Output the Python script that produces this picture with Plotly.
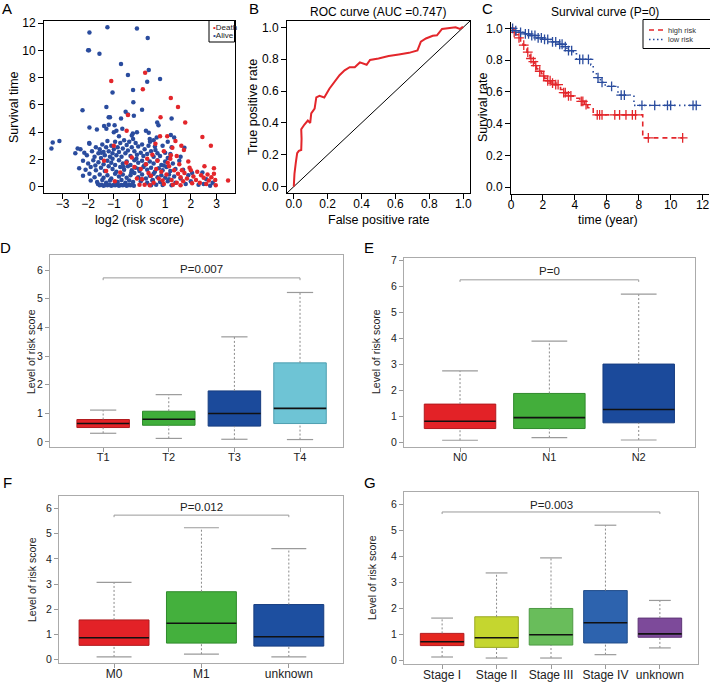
import plotly.graph_objects as go

W, H = 710, 684
FONT = "Liberation Sans, Arial, Helvetica, sans-serif"

def fx(x):
    return x / W

def fy(y):
    return 1 - y / H

# ---------------- Panel A data: scatter of log2(risk score) vs survival time
alive_x = [-1.95, -1.25, -0.1, 0.32, -2.0, -1.97, -1.56, -0.72, 0.36, -0.45, 0.8, 0.3, -1.05, -0.25, -0.24,
           -2.22, -1.29, -1.15, -1.2, -0.54, -0.45, -0.72, -0.22, 0.1, 0.74, 0.69, 1.25, -1.95, -1.66, -1.38,
           -1.29, -1.2, -0.97, -0.9, -0.67, -0.26, 0.36, 0.41, 1.22, 0.67, -3.38, -3.12, -3.43, -2.41, -1.96,
           -2.3, -2.15, -2.05, -1.95, -1.85, -1.75, -1.7, -1.6, -1.55, -1.5, -1.45, -1.4, -1.35, -1.3, -1.25,
           -1.2, -1.15, -1.1, -1.05, -1.0, -0.95, -0.9, -0.85, -0.8, -0.75, -0.7, -0.65, -0.6, -0.55, -0.5,
           -0.45, -0.4, -0.35, -0.3, -0.25, -0.2, -0.15, -0.1, -0.05, 0.05, 0.1, 0.15, 0.2, 0.3, 0.35,
           0.45, 0.55, 0.6, 0.7, 0.8, 0.9, 1.0, 1.1, 1.2, 1.35, 1.6, 1.75, 0.55, -0.8, -0.3,
           0.25, -1.0, 0.4, -0.1, 1.1, 1.25,
           -2.2, -2.0, -1.8, -1.6, -1.4, -1.25, -1.1, -0.95, -0.8, -0.65, -0.5, -0.35, -0.2, -0.05, 0.1,
           0.25, 0.4, 0.55, 0.7, 0.85, 1.0, 1.3, 1.55, 2.45,
           -2.35, -2.1, -1.9, -1.7, -1.5, -1.35, -1.2, -1.05, -0.9, -0.75, -0.6, -0.45, -0.3, -0.15, 0.0,
           0.15, 0.3, 0.45, 0.6, 0.75, 0.9, 1.05, 1.2, 1.4, 1.7, 2.05,
           -2.2, -1.95, -1.75, -1.55, -1.4, -1.25, -1.1, -0.95, -0.8, -0.65, -0.5, -0.35, -0.2, -0.05, 0.1,
           0.25, 0.4, 0.55, 0.7, 0.85, 1.0, 1.15, 1.35, 1.6, 1.9, 2.6, 2.85,
           -1.9, -1.65, -1.45, -1.3, -1.15, -0.85, -0.7, -0.55, -0.4, -0.25, 0.05, 0.3, 0.5, 0.8, 1.1,
           1.4, 2.0, 2.5,
           -1.62, -1.55, -1.48, -1.4, -1.33, -1.25, -1.18, -1.1, -1.02, -0.95, -0.88, -0.8, -0.72, -0.65, -0.58,
           -0.5, -0.42, -0.35, -0.28, -0.22, 0.45, 0.65, 0.9, 1.25, 1.8, 2.3, 2.75,
           -1.72, -1.05, -0.62, -0.12, 0.18, 0.52, 0.95, -1.48, -0.88, -0.32, 0.08, 0.62, 1.15, -2.5, -0.02]
alive_y = [11.3, 11.7, 11.6, 10.9, 10.0, 10.0, 9.75, 9.0, 8.55, 8.2, 7.9, 7.7, 6.9, 7.1, 6.2,
           5.6, 5.85, 5.1, 5.1, 5.5, 5.3, 5.0, 5.2, 5.65, 4.5, 4.7, 5.0, 4.35, 4.2, 4.45,
           4.25, 4.55, 4.5, 4.1, 4.25, 3.9, 3.95, 3.3, 3.8, 3.6, 3.25, 3.35, 2.8, 2.8, 3.2,
           2.75, 2.5, 2.3, 3.15, 2.6, 2.2, 2.9, 2.45, 2.75, 2.1, 3.1, 2.55, 2.3, 2.9, 3.35,
           2.6, 2.2, 3.0, 2.45, 2.75, 3.3, 2.3, 2.9, 2.55, 3.2, 2.2, 2.8, 3.4, 2.45, 3.05,
           2.65, 3.3, 2.25, 2.9, 3.5, 2.6, 3.2, 2.35, 2.95, 2.5, 3.1, 2.25, 2.75, 2.4, 3.0,
           2.6, 2.2, 2.95, 2.45, 2.25, 3.0, 2.5, 2.1, 2.4, 3.6, 2.2, 2.85, 3.4, 3.7, 3.75,
           4.1, 4.0, 3.5, 4.0, 3.3, 2.9,
           1.9, 1.7, 1.95, 1.8, 1.65, 1.9, 1.75, 1.6, 1.95, 1.7, 1.85, 1.6, 1.95, 1.75, 1.9,
           1.65, 1.85, 1.7, 1.95, 1.6, 1.85, 1.7, 1.9, 1.05,
           1.35, 1.25, 1.45, 1.2, 1.4, 1.15, 1.5, 1.3, 1.1, 1.45, 1.25, 1.5, 1.2, 1.4, 1.15,
           1.45, 1.25, 1.4, 1.1, 1.35, 1.2, 1.45, 1.15, 1.3, 1.25, 1.0,
           0.8, 0.95, 0.7, 0.9, 0.65, 0.85, 0.6, 0.95, 0.75, 0.9, 0.65, 0.85, 1.0, 0.7, 0.9,
           0.6, 0.8, 0.95, 0.7, 0.85, 0.65, 0.9, 0.75, 0.6, 0.85, 0.55, 0.3,
           0.45, 0.35, 0.5, 0.3, 0.45, 0.35, 0.5, 0.3, 0.45, 0.35, 0.4, 0.3, 0.45, 0.35, 0.4,
           0.3, 0.4, 0.2,
           0.2, 0.1, 0.15, 0.08, 0.12, 0.1, 0.15, 0.08, 0.12, 0.1, 0.14, 0.08, 0.12, 0.1, 0.15,
           0.08, 0.12, 0.1, 0.14, 0.08, 0.1, 0.15, 0.12, 0.1, 0.2, 0.15, 0.08,
           1.55, 2.05, 1.45, 2.05, 1.55, 0.5, 1.55, 2.5, 0.25, 1.05, 0.55, 2.7, 0.55, 2.45, 1.3]

death_x = [-1.1, 0.22, 0.13, 1.22, 1.5, -0.45, 0.82, 1.78, 2.45, 2.78, 0.8, -0.5, -1.0, 0.62, 1.08,
           1.4, 1.28, 1.22, 1.63, 1.73, 2.53, 2.9, 3.45, 2.97, -1.38, -0.96, -0.51, -1.3, -0.2, 0.0,
           0.1, 0.2, 0.35, 0.45, 0.55, 0.65, 0.75, 0.85, 0.95, 1.05, 1.15, 1.25, 1.35, 1.45, 1.5,
           1.55, 1.6, 1.65, 1.7, 1.75, 1.85, 1.95, 2.05, 2.1, 2.2, 2.25, 2.35, 2.4, 2.5, 2.6,
           2.65, 2.7, 2.8, 2.9, 2.95, 0.3, 0.5, 0.95, 1.2, -0.3, 0.05, -0.1, 0.25, 0.7, 1.45,
           1.1, 1.9, 2.0, 0.4, 0.9, 1.3, 1.6, -0.75]
death_y = [7.75, 8.35, 7.15, 6.5, 5.85, 5.25, 5.1, 4.7, 3.65, 3.0, 3.7, 4.1, 3.0, 3.15, 3.7,
           3.35, 2.85, 2.3, 3.0, 2.7, 1.5, 1.35, 0.45, 0.1, 1.9, 0.4, 1.75, 1.15, 1.45, 0.15,
           0.55, 0.15, 1.0, 0.8, 0.3, 1.3, 0.6, 1.1, 0.2, 0.9, 1.5, 0.5, 1.2, 0.3, 0.95,
           1.65, 0.7, 1.2, 0.4, 1.0, 0.6, 1.4, 0.25, 0.75, 0.5, 1.1, 0.3, 0.85, 0.65, 0.2,
           0.9, 0.45, 0.7, 0.95, 0.5, 2.05, 2.35, 2.6, 2.05, 2.15, 1.3, 0.6, 1.65, 1.9, 2.25,
           1.75, 1.85, 1.2, 0.1, 0.45, 0.15, 0.1, 1.05]

# ---------------- Panel B data: ROC curve
roc_fpr = [0.0, 0.004, 0.012, 0.02, 0.03, 0.044, 0.046, 0.044, 0.063, 0.083, 0.097, 0.103, 0.123, 0.133,
           0.152, 0.18, 0.21, 0.24, 0.27, 0.30, 0.33, 0.36, 0.39, 0.43, 0.45, 0.50, 0.56, 0.62, 0.68,
           0.73, 0.75, 0.78, 0.82, 0.845, 0.875, 0.955, 0.98, 0.994, 1.0]
roc_tpr = [0.0, 0.08, 0.15, 0.21, 0.225, 0.23, 0.30, 0.36, 0.39, 0.415, 0.40, 0.46, 0.49, 0.56,
           0.57, 0.56, 0.615, 0.655, 0.70, 0.73, 0.75, 0.75, 0.78, 0.765, 0.795, 0.805, 0.82, 0.83, 0.84,
           0.855, 0.91, 0.93, 0.947, 0.95, 0.99, 1.0, 0.99, 1.0, 1.0]
diag = [-0.05, 1.05]

# ---------------- Panel C data: Kaplan-Meier curves
high_t = [0, 0.15, 0.3, 0.45, 0.6, 0.75, 0.9, 1.0, 1.1, 1.2, 1.3, 1.45, 1.6, 1.75, 1.9, 2.0, 2.1, 2.25,
          2.5, 2.7, 3.1, 3.2, 3.5, 3.9, 4.3, 4.6, 4.8, 5.15, 8.25, 10.75]
high_s = [1.0, 0.975, 0.96, 0.94, 0.915, 0.895, 0.87, 0.85, 0.83, 0.81, 0.79, 0.765, 0.745, 0.73, 0.715,
          0.7, 0.685, 0.67, 0.655, 0.645, 0.615, 0.595, 0.575, 0.56, 0.54, 0.52, 0.5, 0.455, 0.31, 0.31]
high_cens = [0.2, 0.5, 0.8, 1.05, 1.25, 1.4, 1.55, 1.8, 2.05, 2.3, 2.45, 2.6, 2.8, 2.95, 3.3, 3.4, 3.6,
             3.75, 4.4, 4.5, 4.7, 5.4, 5.55, 5.7, 6.5, 6.8, 7.2, 7.6, 7.8, 8.6, 10.75]
low_t = [0, 0.2, 0.5, 0.8, 1.2, 1.6, 2.0, 2.5, 3.0, 3.3, 3.5, 3.9, 4.1, 5.0, 5.15, 5.35, 5.6, 5.9, 6.7,
         7.7, 11.7]
low_s = [1.0, 0.985, 0.975, 0.965, 0.955, 0.94, 0.93, 0.915, 0.9, 0.885, 0.86, 0.84, 0.805, 0.77, 0.725,
         0.69, 0.66, 0.635, 0.58, 0.515, 0.515]
low_cens = [0.1, 0.3, 0.6, 0.9, 1.1, 1.3, 1.5, 1.7, 1.9, 2.1, 2.3, 2.6, 2.8, 3.05, 3.2, 3.4, 3.6, 3.8,
            4.3, 4.5, 4.85, 5.45, 5.7, 6.3, 6.9, 7.1, 8.2, 9.0, 9.8, 10.0, 11.4, 11.6]
legend_c = ["high risk", "low risk"]

# ---------------- Panels D-G data: boxplot summaries
d_cats = ["T1", "T2", "T3", "T4"]
d_low = [0.30, 0.12, 0.09, 0.08]
d_q1 = [0.50, 0.58, 0.55, 0.64]
d_med = [0.64, 0.79, 0.99, 1.17]
d_q3 = [0.78, 1.07, 1.78, 2.76]
d_up = [1.11, 1.65, 3.67, 5.22]
d_p = "P=0.007"

e_cats = ["N0", "N1", "N2"]
e_low = [0.08, 0.18, 0.09]
e_q1 = [0.53, 0.53, 0.75]
e_med = [0.81, 0.95, 1.26]
e_q3 = [1.47, 1.88, 3.01]
e_up = [2.75, 3.89, 5.70]
e_p = "P=0"

f_cats = ["M0", "M1", "unknown"]
f_low = [0.11, 0.22, 0.11]
f_q1 = [0.57, 0.66, 0.54]
f_med = [0.87, 1.45, 0.91]
f_q3 = [1.58, 2.70, 2.19]
f_up = [3.07, 5.24, 4.41]
f_p = "P=0.012"

g_cats = ["Stage I", "Stage II", "Stage III", "Stage IV", "unknown"]
g_low = [0.13, 0.09, 0.09, 0.22, 0.48]
g_q1 = [0.57, 0.50, 0.59, 0.67, 0.89]
g_med = [0.72, 0.87, 0.99, 1.45, 1.02]
g_q3 = [1.04, 1.68, 2.00, 2.69, 1.63]
g_up = [1.63, 3.37, 3.95, 5.21, 2.31]
g_p = "P=0.003"

RED = "#e3262b"
BLUE = "#2a4c9e"

fig = go.Figure()

# ---- A
fig.add_trace(go.Scatter(x=alive_x, y=alive_y, mode="markers", xaxis="x", yaxis="y",
                         marker=dict(color=BLUE, size=4.5), showlegend=False))
fig.add_trace(go.Scatter(x=death_x, y=death_y, mode="markers", xaxis="x", yaxis="y",
                         marker=dict(color=RED, size=4.5), showlegend=False))

# ---- B
fig.add_trace(go.Scatter(x=diag, y=diag, mode="lines", xaxis="x2", yaxis="y2",
                         line=dict(color="black", width=1), showlegend=False))
fig.add_trace(go.Scatter(x=roc_fpr, y=roc_tpr, mode="lines", xaxis="x2", yaxis="y2",
                         line=dict(color=RED, width=2), showlegend=False))

# ---- C
def step_val(ts, ss, t):
    v = ss[0]
    for ti, si in zip(ts, ss):
        if ti <= t:
            v = si
    return v

HIGH_DASH = "5px,4px"
LOW_DASH = "1.5px,3.5px"
fig.add_trace(go.Scatter(x=high_t, y=high_s, mode="lines", xaxis="x3", yaxis="y3", line_shape="hv",
                         line=dict(color=RED, width=1.6, dash=HIGH_DASH), showlegend=False))
fig.add_trace(go.Scatter(x=low_t, y=low_s, mode="lines", xaxis="x3", yaxis="y3", line_shape="hv",
                         line=dict(color=BLUE, width=1.6, dash=LOW_DASH), showlegend=False))
fig.add_trace(go.Scatter(x=high_cens, y=[step_val(high_t, high_s, t) for t in high_cens], mode="markers",
                         xaxis="x3", yaxis="y3", showlegend=False,
                         marker=dict(symbol="cross-thin", size=7, line=dict(color=RED, width=1.3))))
fig.add_trace(go.Scatter(x=low_cens, y=[step_val(low_t, low_s, t) for t in low_cens], mode="markers",
                         xaxis="x3", yaxis="y3", showlegend=False,
                         marker=dict(symbol="cross-thin", size=7, line=dict(color=BLUE, width=1.3))))

# ---- box panels
GRAY = "#9a9a9a"

def box_panel(xa, ya, cats, low, q1, med, q3, up, fills, outlines, ptext, bry, pty):
    pos = list(range(1, len(cats) + 1))
    wx, wy = [], []
    for p, lo, a, b, hi in zip(pos, low, q1, q3, up):
        wx += [p, p, None, p, p, None]
        wy += [lo, a, None, b, hi, None]
    fig.add_trace(go.Scatter(x=wx, y=wy, mode="lines", xaxis=xa, yaxis=ya, showlegend=False,
                             line=dict(color="#8a8a8a", width=1, dash="2px,2px")))
    cx, cy = [], []
    for p, lo, hi in zip(pos, low, up):
        cx += [p - 0.2, p + 0.2, None, p - 0.2, p + 0.2, None]
        cy += [lo, lo, None, hi, hi, None]
    fig.add_trace(go.Scatter(x=cx, y=cy, mode="lines", xaxis=xa, yaxis=ya, showlegend=False,
                             line=dict(color=GRAY, width=1.2)))
    fig.add_trace(go.Bar(x=pos, y=[b - a for a, b in zip(q1, q3)], base=q1, width=0.8,
                         xaxis=xa, yaxis=ya, showlegend=False,
                         marker=dict(color=fills, line=dict(color=outlines, width=1))))
    mx, my = [], []
    for p, m in zip(pos, med):
        mx += [p - 0.4, p + 0.4, None]
        my += [m, m, None]
    fig.add_trace(go.Scatter(x=mx, y=my, mode="lines", xaxis=xa, yaxis=ya, showlegend=False,
                             line=dict(color="#111111", width=1.6)))
    n = len(cats)
    fig.add_trace(go.Scatter(x=[1, 1, n, n], y=[bry - 0.08, bry, bry, bry - 0.08], mode="lines",
                             xaxis=xa, yaxis=ya, showlegend=False,
                             line=dict(color=GRAY, width=1)))
    fig.add_annotation(x=(1 + n) / 2, y=pty, xref=xa, yref=ya, text=ptext, showarrow=False,
                       font=dict(size=11.5, color="#222"), yanchor="middle")

box_panel("x4", "y4", d_cats, d_low, d_q1, d_med, d_q3, d_up,
          ["#e32227", "#3fae3a", "#1b4a9b", "#6ec4d5"],
          ["#b21a1e", "#2f8a2c", "#173d80", "#4e9fb0"], d_p, 5.73, 6.03)
box_panel("x5", "y5", e_cats, e_low, e_q1, e_med, e_q3, e_up,
          ["#e32227", "#43ae3b", "#1b4a9b"],
          ["#b21a1e", "#2f8a2c", "#173d80"], e_p, 6.25, 6.58)
box_panel("x6", "y6", f_cats, f_low, f_q1, f_med, f_q3, f_up,
          ["#e32227", "#44b03d", "#1d4fa0"],
          ["#b21a1e", "#2f8a2c", "#173d80"], f_p, 5.74, 6.07)
box_panel("x7", "y7", g_cats, g_low, g_q1, g_med, g_q3, g_up,
          ["#e5261f", "#c5d62f", "#69bd5b", "#2d63ae", "#7d4a9a"],
          ["#b21a1e", "#9aa822", "#4e9a44", "#214d8a", "#5f3677"], g_p, 5.72, 6.0)

# ---- axes
def black_axis(dom, rng, anchor, mirror=True, **kw):
    d = dict(domain=dom, range=rng, anchor=anchor, showline=True, linecolor="black", linewidth=1,
             mirror=mirror, ticks="outside", ticklen=5, tickcolor="black", showgrid=False,
             zeroline=False, tickfont=dict(size=12, color="black"))
    d.update(kw)
    return d

def gray_axis(dom, rng, anchor, **kw):
    d = dict(domain=dom, range=rng, anchor=anchor, showline=True, linecolor="#ababab", linewidth=1,
             mirror=True, ticks="outside", ticklen=4, tickcolor="#9a9a9a", showgrid=False,
             zeroline=False, tickfont=dict(size=10.5, color="#222"))
    d.update(kw)
    return d

XSO = -5   # pull bottom tick labels up toward the axis
layout = dict(
    width=W, height=H, margin=dict(l=0, r=0, t=0, b=0, autoexpand=False), plot_bgcolor="white",
    paper_bgcolor="white", font=dict(family=FONT, color="black"), showlegend=False, barmode="overlay",
    xaxis=black_axis([fx(44), fx(235)], [-3.72, 3.72], "y", tickvals=[-3, -2, -1, 0, 1, 2, 3],
                     ticklabelstandoff=XSO),
    yaxis=black_axis([fy(193), fy(21)], [-0.46, 12.15], "x", tickvals=[0, 2, 4, 6, 8, 10, 12]),
    xaxis2=black_axis([fx(287), fx(470)], [-0.04, 1.04], "y2", tickvals=[0, 0.2, 0.4, 0.6, 0.8, 1.0],
                      tickformat=".1f", ticklabelstandoff=XSO),
    yaxis2=black_axis([fy(193), fy(21)], [-0.04, 1.04], "x2", tickvals=[0, 0.2, 0.4, 0.6, 0.8, 1.0],
                      tickformat=".1f"),
    xaxis3=black_axis([fx(511), fx(709)], [0, 12.4], "y3", mirror=False,
                      tickvals=[0, 2, 4, 6, 8, 10, 12], ticklabelstandoff=XSO),
    yaxis3=black_axis([fy(193.5), fy(22)], [-0.04, 1.04], "x3", mirror=False,
                      tickvals=[0, 0.2, 0.4, 0.6, 0.8, 1.0], tickformat=".1f"),
    xaxis4=gray_axis([fx(50), fx(343)], [0.19, 4.655], "y4", tickvals=[1, 2, 3, 4], ticktext=d_cats,
                     tickfont=dict(size=11, color="#222"), ticklabelstandoff=-4),
    yaxis4=gray_axis([fy(447), fy(255)], [-0.18, 6.53], "x4", tickvals=[0, 1, 2, 3, 4, 5, 6]),
    xaxis5=gray_axis([fx(404), fx(695)], [0.373, 3.63], "y5", tickvals=[1, 2, 3], ticktext=e_cats,
                     tickfont=dict(size=11, color="#222"), ticklabelstandoff=-4),
    yaxis5=gray_axis([fy(447), fy(258)], [-0.18, 7.09], "x5", tickvals=[0, 1, 2, 3, 4, 5, 6, 7]),
    xaxis6=gray_axis([fx(59), fx(343)], [0.37, 3.62], "y6", tickvals=[1, 2, 3], ticktext=f_cats,
                     tickfont=dict(size=12, color="#222"), ticklabelstandoff=-4),
    yaxis6=gray_axis([fy(663), fy(496)], [-0.13, 6.5], "x6", tickvals=[0, 1, 2, 3, 4, 5, 6]),
    xaxis7=gray_axis([fx(404), fx(698)], [0.30, 5.70], "y7", tickvals=[1, 2, 3, 4, 5], ticktext=g_cats,
                     tickfont=dict(size=12, color="#222"), ticklabelstandoff=-4),
    yaxis7=gray_axis([fy(664), fy(492)], [-0.14, 6.49], "x7", tickvals=[0, 1, 2, 3, 4, 5, 6]),
)
fig.update_layout(**layout)

# ---- A legend (box + text)
fig.add_shape(type="rect", xref="paper", yref="paper", x0=fx(209), x1=fx(234.5), y0=fy(42), y1=fy(20.5),
              line=dict(color="black", width=1), fillcolor="white", layer="above")
fig.add_annotation(x=fx(211), y=fy(27), xref="paper", yref="paper", xanchor="left", yanchor="middle",
                   showarrow=False, font=dict(size=8, color="#222"),
                   text=f"<span style='color:{RED}'>•</span>Death")
fig.add_annotation(x=fx(211), y=fy(35), xref="paper", yref="paper", xanchor="left", yanchor="middle",
                   showarrow=False, font=dict(size=8, color="#222"),
                   text=f"<span style='color:{BLUE}'>•</span>Alive")

# ---- C legend (box + line samples + text)
fig.add_shape(type="rect", xref="paper", yref="paper", x0=fx(643), x1=fx(712), y0=fy(48.5), y1=fy(19.5),
              line=dict(color="black", width=1), fillcolor="white", layer="above")
fig.add_shape(type="line", xref="paper", yref="paper", x0=fx(649), x1=fx(663), y0=fy(30), y1=fy(30),
              line=dict(color=RED, width=1.4, dash=HIGH_DASH), layer="above")
fig.add_shape(type="line", xref="paper", yref="paper", x0=fx(649), x1=fx(663), y0=fy(39.5), y1=fy(39.5),
              line=dict(color=BLUE, width=1.4, dash="1.5px,2.5px"), layer="above")
fig.add_annotation(x=fx(666), y=fy(30), xref="paper", yref="paper", xanchor="left", yanchor="middle",
                   showarrow=False, font=dict(size=7.5, color="#333"), text=legend_c[0])
fig.add_annotation(x=fx(666), y=fy(39.5), xref="paper", yref="paper", xanchor="left", yanchor="middle",
                   showarrow=False, font=dict(size=7.5, color="#333"), text=legend_c[1])

# ---- text annotations (panel letters, titles, axis titles)
def txt(x, y, s, size, angle=0, color="black"):
    fig.add_annotation(x=fx(x), y=fy(y), xref="paper", yref="paper", text=s, showarrow=False,
                       textangle=angle, font=dict(size=size, color=color),
                       xanchor="center", yanchor="middle")

for letter, x, y in [("A", 7, 8), ("B", 254, 8), ("C", 487, 8), ("D", 6, 247), ("E", 369, 247),
                     ("F", 7, 482), ("G", 370, 482)]:
    txt(x, y, letter, 15)

txt(378, 12, "ROC curve (AUC =0.747)", 12)
txt(605, 12, "Survival curve (P=0)", 12)

txt(139, 220, "log2 (risk score)", 12.5)
txt(14, 107, "Survival time", 12.5, -90)
txt(379, 220, "False positive rate", 12.5)
txt(253, 107, "True positive rate", 12.5, -90)
txt(608, 220, "time (year)", 12.5)
txt(483, 107, "Survival rate", 12.5, -90)

txt(31, 351, "Level of risk score", 10.5, -90, "#222")
txt(376, 352, "Level of risk score", 10.5, -90, "#222")
txt(32, 580, "Level of risk score", 10.5, -90, "#222")
txt(372, 578, "Level of risk score", 10.5, -90, "#222")

fig.write_html("out.html", config={"displayModeBar": False},
               post_script="document.body.style.margin='0';document.body.style.overflow='hidden';")
